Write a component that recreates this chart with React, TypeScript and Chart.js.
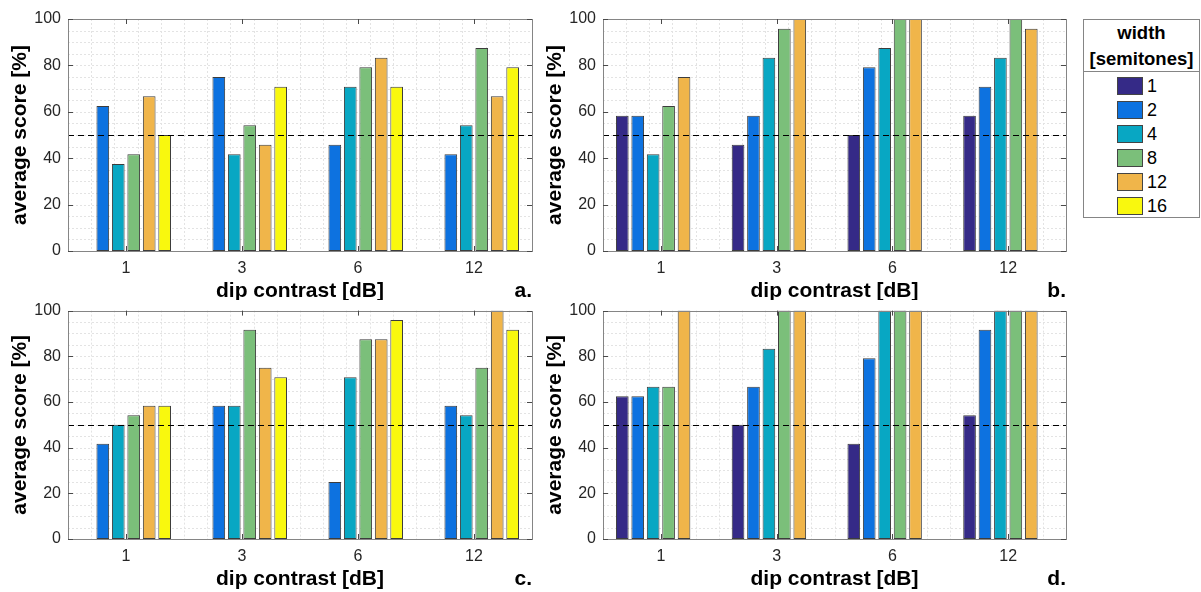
import React, { useEffect, useRef } from 'react';
import { Chart, registerables } from 'chart.js';

Chart.register(...registerables);

// ---------- data ----------
const contrasts = ['1', '3', '6', '12'];
const widthLabels = ['1', '2', '4', '8', '12', '16'];
const seriesColors = ['#352A87', '#0D72E0', '#08A7C3', '#7BBF7A', '#F0B54A', '#F9F80E'];
const yTicks = [0, 20, 40, 60, 80, 100];
const CHANCE = 50;

// panel a
const aW1 = [null, null, null, null];
const aW2 = [62.5, 75, 45.83, 41.67];
const aW4 = [37.5, 41.67, 70.83, 54.17];
const aW8 = [41.67, 54.17, 79.17, 87.5];
const aW12 = [66.67, 45.83, 83.33, 66.67];
const aW16 = [50, 70.83, 70.83, 79.17];

// panel b
const bW1 = [58.33, 45.83, 50, 58.33];
const bW2 = [58.33, 58.33, 79.17, 70.83];
const bW4 = [41.67, 83.33, 87.5, 83.33];
const bW8 = [62.5, 95.83, 100, 100];
const bW12 = [75, 100, 100, 95.83];
const bW16 = [null, null, null, null];

// panel c
const cW1 = [null, null, null, null];
const cW2 = [41.67, 58.33, 25, 58.33];
const cW4 = [50, 58.33, 70.83, 54.17];
const cW8 = [54.17, 91.67, 87.5, 75];
const cW12 = [58.33, 75, 87.5, 100];
const cW16 = [58.33, 70.83, 95.83, 91.67];

// panel d
const dW1 = [62.5, 50, 41.67, 54.17];
const dW2 = [62.5, 66.67, 79.17, 91.67];
const dW4 = [66.67, 83.33, 100, 100];
const dW8 = [66.67, 100, 100, 100];
const dW12 = [100, 100, 100, 100];
const dW16 = [null, null, null, null];

const FONT = "'Liberation Sans', Arial, Helvetica, sans-serif";
const TEXT = '#262626';

type Panel = {
  letter: string;
  series: (number | null)[][];
  left: number; top: number; w: number; h: number;
  yAxisW: number; padTop: number; padRight: number; xAxisH: number;
  yTitlePad: number; xTitlePad: number;
};

const panels: Panel[] = [
  { letter: 'a.', series: [aW1, aW2, aW4, aW8, aW12, aW16], left: 0, top: 0, w: 545, h: 300, yAxisW: 68, padTop: 19, padRight: 13, xAxisH: 49, yTitlePad: 10, xTitlePad: -1.5 },
  { letter: 'b.', series: [bW1, bW2, bW4, bW8, bW12, bW16], left: 545, top: 0, w: 530, h: 300, yAxisW: 58, padTop: 19, padRight: 9, xAxisH: 49, yTitlePad: 0, xTitlePad: -1.5 },
  { letter: 'c.', series: [cW1, cW2, cW4, cW8, cW12, cW16], left: 0, top: 294, w: 545, h: 298, yAxisW: 68, padTop: 13, padRight: 13, xAxisH: 53, yTitlePad: 10, xTitlePad: 2.5 },
  { letter: 'd.', series: [dW1, dW2, dW4, dW8, dW12, dW16], left: 545, top: 294, w: 530, h: 298, yAxisW: 58, padTop: 13, padRight: 9, xAxisH: 53, yTitlePad: 0, xTitlePad: 2.5 },
];

const decorPlugin = {
  id: 'decor',
  beforeDatasetsDraw(chart: any) {
    const { ctx, chartArea: ca, scales } = chart;
    const x = scales.x, y = scales.y;
    ctx.save();
    ctx.strokeStyle = '#e3e3e3';
    ctx.lineWidth = 1;
    ctx.setLineDash([2, 2]);
    for (let v = 5; v < 100; v += 5) {
      const py = Math.round(y.getPixelForValue(v)) + 0.5;
      ctx.beginPath(); ctx.moveTo(ca.left, py); ctx.lineTo(ca.right, py); ctx.stroke();
    }
    for (let k = 1; k < 20; k++) {
      const px = Math.round(x.getPixelForValue(-0.5 + k * 0.2)) + 0.5;
      ctx.beginPath(); ctx.moveTo(px, ca.top); ctx.lineTo(px, ca.bottom); ctx.stroke();
    }
    ctx.restore();
  },
  afterDatasetsDraw(chart: any, _args: any, opts: any) {
    const { ctx, chartArea: ca, scales } = chart;
    const x = scales.x, y = scales.y;
    ctx.save();
    // reference line
    ctx.strokeStyle = '#000';
    ctx.lineWidth = 1.2;
    ctx.setLineDash([6, 4]);
    const ry = Math.round(y.getPixelForValue(opts.ref)) + 0.5;
    ctx.beginPath(); ctx.moveTo(ca.left, ry); ctx.lineTo(ca.right, ry); ctx.stroke();
    ctx.setLineDash([]);
    // box
    ctx.strokeStyle = '#858585';
    ctx.lineWidth = 1;
    ctx.strokeRect(Math.round(ca.left) + 0.5, Math.round(ca.top) + 0.5, Math.round(ca.right - ca.left), Math.round(ca.bottom - ca.top));
    // inner ticks
    ctx.strokeStyle = '#4a4a4a';
    const tl = 5;
    for (const v of yTicks) {
      const py = Math.round(y.getPixelForValue(v)) + 0.5;
      ctx.beginPath();
      ctx.moveTo(ca.left, py); ctx.lineTo(ca.left + tl, py);
      ctx.moveTo(ca.right, py); ctx.lineTo(ca.right - tl, py);
      ctx.stroke();
    }
    for (let i = 0; i < contrasts.length; i++) {
      const px = Math.round(x.getPixelForValue(i)) + 0.5;
      ctx.beginPath();
      ctx.moveTo(px, ca.top); ctx.lineTo(px, ca.top + tl);
      ctx.moveTo(px, ca.bottom); ctx.lineTo(px, ca.bottom - tl);
      ctx.stroke();
    }
    // panel letter
    ctx.fillStyle = '#000';
    ctx.font = `bold 21px ${FONT}`;
    ctx.textAlign = 'right';
    ctx.textBaseline = 'middle';
    ctx.fillText(opts.letter, ca.right, ca.bottom + 40);
    ctx.restore();
  },
};

function PanelChart({ p }: { p: Panel }) {
  const ref = useRef<HTMLCanvasElement | null>(null);
  useEffect(() => {
    if (!ref.current) return;
    const chart = new Chart(ref.current, {
      type: 'bar',
      data: {
        labels: contrasts,
        datasets: widthLabels.map((w, i) => ({
          label: w,
          data: p.series[i],
          backgroundColor: seriesColors[i],
          borderColor: '#3c3c3c',
          borderWidth: 1,
          borderSkipped: false,
          categoryPercentage: 0.8,
          barPercentage: 0.82,
        })),
      },
      options: {
        responsive: false,
        maintainAspectRatio: false,
        animation: false,
        layout: { padding: { top: p.padTop, right: p.padRight, left: 0, bottom: 0 } },
        plugins: {
          legend: { display: false },
          tooltip: { enabled: false },
          decor: { letter: p.letter, ref: CHANCE },
        } as any,
        scales: {
          x: {
            grid: { display: false, drawTicks: false },
            border: { display: false },
            ticks: { color: TEXT, font: { family: FONT, size: 16 }, padding: 8 },
            title: {
              display: true, text: 'dip contrast [dB]', color: '#000',
              font: { family: FONT, size: 21, weight: 'bold', lineHeight: 1 },
              padding: { top: 0, bottom: p.xTitlePad },
            },
            afterFit: (s: any) => { s.height = p.xAxisH; },
          },
          y: {
            min: 0, max: 100,
            grid: { display: false, drawTicks: false },
            border: { display: false },
            ticks: { stepSize: 20, color: TEXT, font: { family: FONT, size: 16 }, padding: 7 },
            title: {
              display: true, text: 'average score [%]', color: '#000',
              font: { family: FONT, size: 21, weight: 'bold', lineHeight: 1 },
              padding: { top: p.yTitlePad, bottom: 0 },
            },
            afterFit: (s: any) => { s.width = p.yAxisW; },
          },
        },
      } as any,
      plugins: [decorPlugin as any],
    });
    return () => chart.destroy();
  }, [p]);
  return (
    <canvas
      ref={ref}
      width={p.w}
      height={p.h}
      style={{ position: 'absolute', left: p.left, top: p.top, width: p.w, height: p.h }}
    />
  );
}

function Legend() {
  return (
    <div style={{
      position: 'absolute', left: 1083, top: 19, width: 117, height: 199,
      border: '1px solid #858585', boxSizing: 'border-box', background: '#fff',
      fontFamily: FONT, color: '#000',
    }}>
      <div style={{ position: 'absolute', left: 0, width: '100%', top: 13 - 11, height: 22, lineHeight: '22px', textAlign: 'center', fontWeight: 'bold', fontSize: 18.5 }}>width</div>
      <div style={{ position: 'absolute', left: 0, width: '100%', top: 39 - 11, height: 22, lineHeight: '22px', textAlign: 'center', fontWeight: 'bold', fontSize: 18.5, whiteSpace: 'nowrap' }}>[semitones]</div>
      <div style={{ position: 'absolute', left: 0, width: '100%', top: 51, height: 0, borderTop: '1px solid #858585' }} />
      {widthLabels.map((w, i) => (
        <React.Fragment key={w}>
          <div style={{
            position: 'absolute', left: 33, top: 66 + i * 24 - 9, width: 26, height: 18,
            background: seriesColors[i], border: '1px solid #444', boxSizing: 'border-box',
          }} />
          <div style={{ position: 'absolute', left: 63, top: 66 + i * 24 - 11, height: 22, lineHeight: '22px', fontSize: 18 }}>{w}</div>
        </React.Fragment>
      ))}
    </div>
  );
}

export default function App() {
  return (
    <div style={{ position: 'absolute', left: 0, top: 0, width: 1201, height: 592, background: '#fff', overflow: 'hidden' }}>
      {panels.map((p) => <PanelChart key={p.letter} p={p} />)}
      <Legend />
    </div>
  );
}
